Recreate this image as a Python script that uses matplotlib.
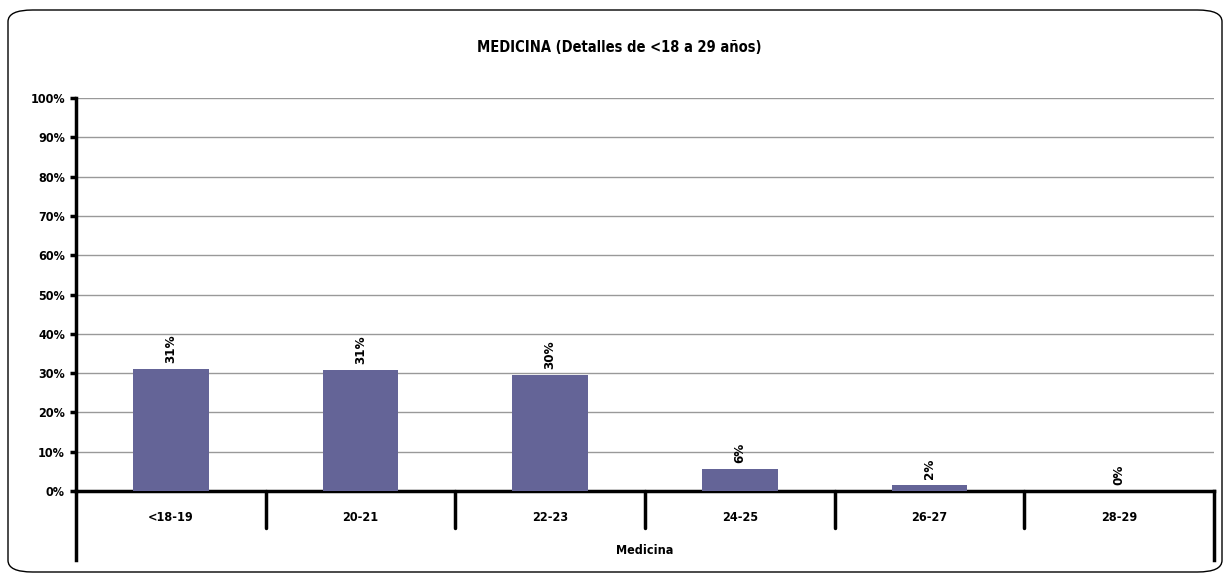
import matplotlib
matplotlib.use("Agg")
import matplotlib.pyplot as plt
from matplotlib.patches import FancyBboxPatch

# data
categories = ['<18-19', '20-21', '22-23', '24-25', '26-27', '28-29']
values = [31.1, 30.8, 29.6, 5.6, 1.6, 0.0]
labels = ['31%', '31%', '30%', '6%', '2%', '0%']
yticks = [0, 10, 20, 30, 40, 50, 60, 70, 80, 90, 100]

plt.rcParams['font.family'] = ['DejaVu Sans']
plt.rcParams['font.stretch'] = 'condensed'

W, H = 1232, 580
fig = plt.figure(figsize=(W / 100, H / 100), dpi=100)

# rounded frame around whole chart
frame = FancyBboxPatch((8 / W, 8 / H), 1214 / W, 562 / H,
                       boxstyle="round,pad=0,rounding_size=0.02",
                       transform=fig.transFigure, fill=False,
                       edgecolor='black', linewidth=1.0)
fig.patches.append(frame)

ax = fig.add_axes([76 / W, 89 / H, 1138 / W, 393 / H])
x = range(len(categories))
ax.bar(x, values, width=0.4, color='#646497', zorder=3)

ax.set_xlim(-0.5, len(categories) - 0.5)
ax.set_ylim(0, 100)
ax.set_yticks(yticks)
ax.set_yticklabels([f'{t}%' for t in yticks], fontsize=9, fontweight='bold',
                   fontstretch='condensed')
ax.yaxis.grid(True, color='#999999', linewidth=1, zorder=0)
ax.set_axisbelow(True)

ax.set_xticks(list(x))
ax.set_xticklabels(categories, fontsize=9, fontweight='bold',
                   fontstretch='condensed')
ax.tick_params(axis='x', length=0, pad=14.5)
ax.tick_params(axis='y', length=4, width=2.5, pad=4)

for s in ['top', 'right']:
    ax.spines[s].set_visible(False)
ax.spines['left'].set_linewidth(2.5)
ax.spines['bottom'].set_linewidth(2.5)

# category separators and axis extensions below the baseline
tr = ax.get_xaxis_transform()
for b in range(1, len(categories)):
    ax.plot([b - 0.5, b - 0.5], [0, -0.094], transform=tr, color='black',
            linewidth=2.5, clip_on=False, solid_capstyle='round')
ax.plot([-0.5, -0.5], [0, -0.176], transform=tr, color='black',
        linewidth=2.5, clip_on=False)
ax.plot([len(categories) - 0.5] * 2, [0, -0.176], transform=tr, color='black',
        linewidth=2.5, clip_on=False)

for i, (v, l) in enumerate(zip(values, labels)):
    ax.annotate(l, (i, v), xytext=(0, 4), textcoords='offset points',
                rotation=90, ha='center', va='bottom', fontsize=9.5,
                fontweight='bold', fontstretch='condensed')

ax.set_xlabel('Medicina', fontsize=9, fontweight='bold', labelpad=14,
              fontstretch='condensed')
fig.text(0.503, 1 - 47 / H, 'MEDICINA (Detalles de <18 a 29 años)',
         ha='center', va='center', fontsize=10.5, fontweight='bold',
         fontstretch='condensed')

fig.savefig('out.png', dpi=100)
